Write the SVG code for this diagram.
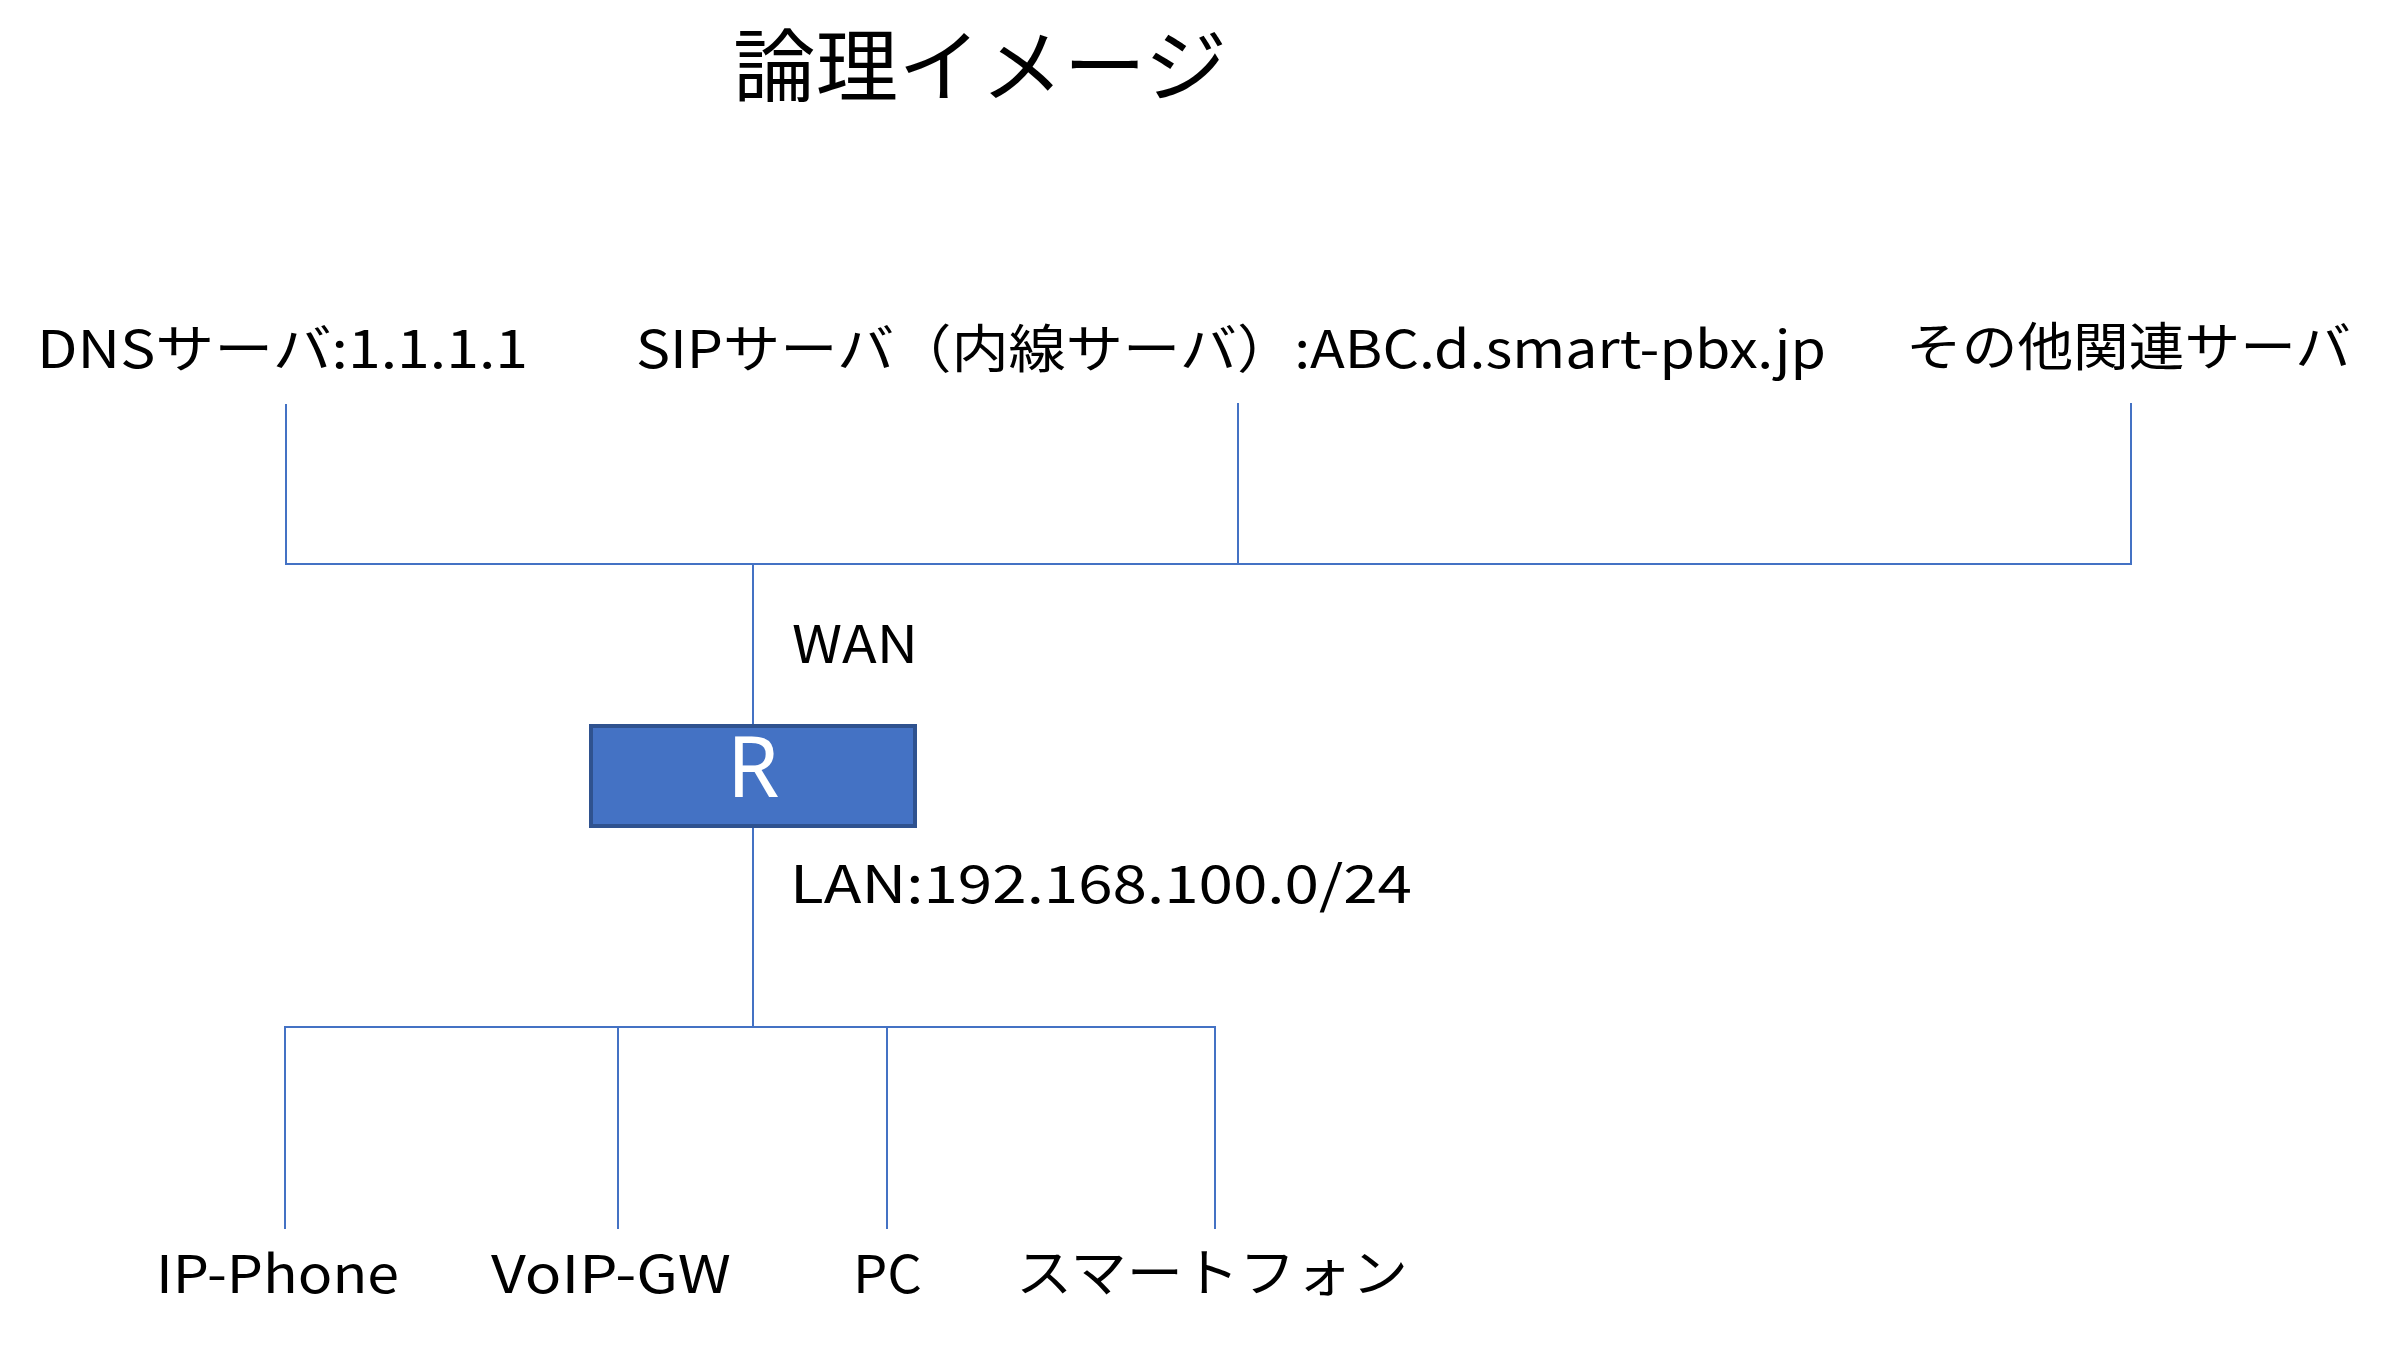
<svg xmlns="http://www.w3.org/2000/svg" width="2386" height="1346" viewBox="0 0 2386 1346">
<style>
text{font-family:"Noto Sans CJK JP","Noto Sans",sans-serif;fill:#000;}
.lbl{font-size:52px;}
.title{font-size:80px;}
.ln{stroke:#4472C4;stroke-width:2;fill:none;}
.rt{fill:#4472C4;stroke:#2F528F;stroke-width:4;}
.rl{font-size:84px;fill:#fff;font-family:"Noto Sans","Liberation Sans",sans-serif;}
</style>
<rect width="2386" height="1346" fill="#fff"/>
<text id="title" class="title" x="733" y="95" textLength="494" lengthAdjust="spacingAndGlyphs">論理イメージ</text>
<g id="connectors">
<path class="ln" d="M286 404 V564 H1238 M1238 403 V564 M753 564 H2131 V403 M753 564 V724"/>
<path class="ln" d="M753 828 V1027 M285 1229 V1027 H1215 V1229 M618 1027 V1229 M887 1027 V1229"/>
</g>
<g id="dns"><text class="lbl" x="37" y="368" textLength="491" lengthAdjust="spacingAndGlyphs">DNSサーバ:1.1.1.1</text></g>
<g id="sip"><text class="lbl" x="636" y="368" textLength="1190" lengthAdjust="spacingAndGlyphs">SIPサーバ（内線サーバ）:ABC.d.smart-pbx.jp</text></g>
<g id="other"><text class="lbl" x="1906" y="366" textLength="445" lengthAdjust="spacingAndGlyphs">その他関連サーバ</text></g>
<g id="wan"><text class="lbl" x="792" y="663" textLength="126" lengthAdjust="spacingAndGlyphs">WAN</text></g>
<g id="router">
<rect class="rt" x="591" y="726" width="324" height="100"/>
<text class="rl" x="753" y="797" text-anchor="middle">R</text>
</g>
<g id="lan"><text class="lbl" x="790" y="903" textLength="622" lengthAdjust="spacingAndGlyphs">LAN:192.168.100.0/24</text></g>
<g id="ipphone"><text class="lbl" x="156" y="1293" textLength="243" lengthAdjust="spacingAndGlyphs">IP-Phone</text></g>
<g id="voipgw"><text class="lbl" x="491" y="1293" textLength="240" lengthAdjust="spacingAndGlyphs">VoIP-GW</text></g>
<g id="pc"><text class="lbl" x="853" y="1293" textLength="69" lengthAdjust="spacingAndGlyphs">PC</text></g>
<g id="smartphone"><text class="lbl" x="1016" y="1292" textLength="392" lengthAdjust="spacingAndGlyphs">スマートフォン</text></g>
</svg>
